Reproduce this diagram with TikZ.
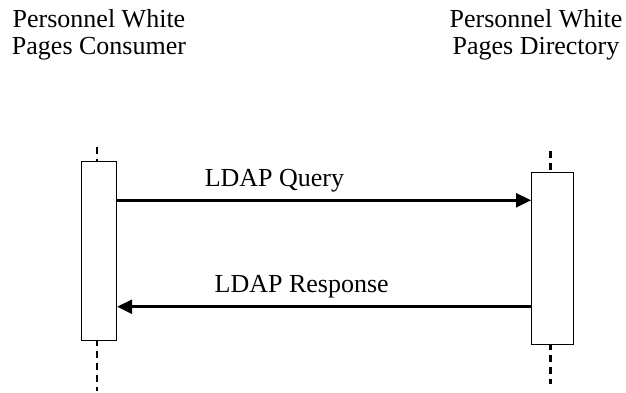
\documentclass[tikz,border=0pt]{standalone}
\usepackage{fontspec}
\setmainfont{Liberation Serif}
\usepackage{tikz}
\usetikzlibrary{arrows.meta,positioning,calc}

\begin{document}
\begin{tikzpicture}[
    x=1pt, y=-1pt,
    >={Triangle[length=15pt,width=14pt]},
    hdr/.style={font=\fontsize{26}{27}\selectfont, align=center, inner sep=0pt},
    life/.style={draw, line width=1.3pt, fill=white, inner sep=0pt,
                 minimum width=#1},
    life/.default=35pt,
    msg/.style={->, line width=2.6pt},
    lbl/.style={font=\fontsize{26}{27}\selectfont, inner sep=0pt, anchor=base},
    lifedash/.style={line width=2.4pt, dash pattern=on 7pt off 5pt},
  ]
  \useasboundingbox (0,0) rectangle (626,393);

  % headers
  \node[hdr, anchor=base] (cons) at (99,55) {Personnel White\\Pages Consumer};
  \node[hdr, anchor=base] (dir) at (536,55) {Personnel White\\Pages Directory};

  % lifelines
  \coordinate (ltop) at (97,147);
  \coordinate (lbot) at (97,391);
  \coordinate (rtop) at (550.5,151);
  \coordinate (rbot) at (550.5,384);
  \draw[lifedash] (ltop) -- (lbot);
  \draw[lifedash] (rtop) -- (rbot);
  \node[life=35pt, minimum height=179pt] (lbox) at (99,251.3) {};
  \node[life=41.6pt, minimum height=172pt] (rbox) at (552.5,258.2) {};

  % messages
  \coordinate (qy) at (0,200.3);
  \coordinate (ry) at (0,306.7);
  \draw[msg] (lbox.east |- qy) -- node[lbl, pos=0.38, yshift=14pt] {LDAP Query} (rbox.west |- qy);
  \draw[msg] (rbox.west |- ry) -- node[lbl, pos=0.554, yshift=14pt] {LDAP Response} (lbox.east |- ry);
\end{tikzpicture}
\end{document}
